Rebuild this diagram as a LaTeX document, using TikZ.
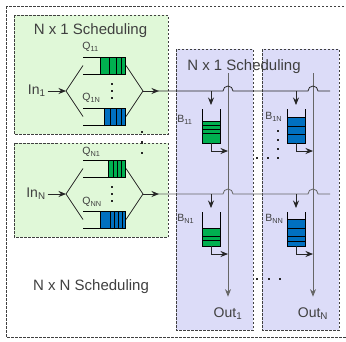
\documentclass[tikz,border=0pt]{standalone}
\usepackage{fontspec}
\setmainfont{Liberation Sans}
\usetikzlibrary{arrows.meta}
\definecolor{schedgreen}{HTML}{E0F8D8}
\definecolor{schedblue}{HTML}{DCDCF8}
\definecolor{qgreen}{HTML}{00B050}
\definecolor{qblue}{HTML}{0070C0}
\definecolor{ink}{HTML}{404040}

\begin{document}
\begin{tikzpicture}[x=1pt, y=-1pt, line width=.8pt, >={Stealth[length=7.5pt, width=6pt]},
  schedbox/.style={draw=black!75, line width=.7pt, dash pattern=on 2.5pt off 1.5pt},
  wire/.style={black!85},
  outwire/.style={black!60},
  title/.style={text=ink, font=\fontsize{15}{15}\selectfont, inner sep=0},
  port/.style={text=ink, font=\fontsize{14}{14}\selectfont, inner sep=0},
  qlabel/.style={text=ink, font=\fontsize{10.5}{10.5}\selectfont, inner sep=0, anchor=west}]
\useasboundingbox (0,0) rectangle (346,341);
% outer and inner scheduling boxes
\draw[schedbox, fill=white] (6,6) rectangle (352,337);
\filldraw[schedbox, fill=schedgreen] (14,15) rectangle (168,134);
\filldraw[schedbox, fill=schedgreen] (14,143) rectangle (168,237);
\filldraw[schedbox, fill=schedblue] (176,49) rectangle (253,330);
\filldraw[schedbox, fill=schedblue] (262,49) rectangle (339,330);
\node[title] (t1) at (90.5,31) {N x 1 Scheduling};
\node[title] (t2) at (244,67) {N x 1 Scheduling};
\node[title] (t3) at (91,287) {N x N Scheduling};
% input side: fork, two queues, merge
\foreach \g/\y/\s in {1/91/1, 2/194/N} {
 \node[port, anchor=east] (in\g) at (46,\y) {In\textsubscript{\s}};
 \coordinate (fork\g) at (66,\y);
 \coordinate (merge\g) at (143,\y);
 \draw[wire, ->] (in\g.east) ++(1.5,0) -- (fork\g);
 \foreach \d in {-1,1} {
  \draw[wire] (fork\g) -- (83,\y+25.5*\d);
  \draw[wire] (126,\y+25.5*\d) -- (merge\g);
 }
 \foreach \d in {-7,0,7}
  \fill[black!85] (112-1.3,\y+\d-1.3) rectangle ++(2.6,2.6);
}
\foreach \qy/\qx/\qc/\qs in {57/100/qgreen/{109,116,121}, 108/104/qblue/{110,116.5,121.5},
  160/108/qgreen/{113,117,121}, 211/100/qblue/{110,114,118,122}} {
 \filldraw[fill=\qc, draw=black] (\qx,\qy) rectangle (125,\qy+17);
 \foreach \c in \qs
  \draw[black] (\c,\qy) --++(0,17);
 \draw[black] (83,\qy) -- (\qx,\qy);
 \draw[black] (83,\qy+17) -- (\qx,\qy+17);
}
\node[qlabel] (q11) at (82,47) {Q\textsubscript{11}};
\node[qlabel] (q1n) at (82,98) {Q\textsubscript{1N}};
\node[qlabel] (qn1) at (82,152) {Q\textsubscript{N1}};
\node[qlabel] (qnn) at (82,202) {Q\textsubscript{NN}};
\foreach \d in {132,142.5,153}
 \fill[black!85] (142-1.3,\d-1.3) rectangle ++(2.6,2.6);
% output side: vertical output lines
\node[port] (out1) at (228,314) {Out\textsubscript{1}};
\node[port] (outN) at (313,314) {Out\textsubscript{N}};
\coordinate (top1) at (228,73);
\coordinate (topN) at (313,73);
\draw[outwire, ->] (top1) -- ([yshift=11pt]out1.north);
\draw[outwire, ->] (topN) -- ([yshift=11pt]outN.north);
% crossbar lines hopping over the output lines
\draw[wire, ->] (merge1) -- (159,91);
\draw[wire] (158,91) -- (223,91) arc[start angle=180, end angle=0, radius=5pt]
  -- (308,91) arc[start angle=180, end angle=0, radius=5pt] -- (330,91);
\draw[wire, ->] (merge2) -- (159,194);
\draw[outwire] (158,194) -- (223,194) arc[start angle=180, end angle=0, radius=5pt]
  -- (308,194) arc[start angle=180, end angle=0, radius=5pt] -- (330,194);
% crosspoint buffers
\foreach \bx/\by/\bc/\bf/\bl in {211/91/qgreen/121/{125,129,133}, 296/91/qblue/117/{126,134},
  211/194/qgreen/228/{236.5,240.5}, 296/194/qblue/219/{228,236.5,241.5}} {
 \draw[wire, ->] (\bx,\by) -- (\bx,\by+14);
 \filldraw[fill=\bc, draw=black] (\bx-9,\bf) rectangle (\bx+9,\by+52);
 \foreach \c in \bl
  \draw[black] (\bx-9,\c) --++(18,0);
 \draw[black] (\bx-9,\by+18) -- (\bx-9,\bf);
 \draw[black] (\bx+9,\by+18) -- (\bx+9,\bf);
 \draw[wire, ->] (\bx,\by+52) -- (\bx,\by+60) -- (\bx+17,\by+60);
}
\node[qlabel] (b11) at (177,120) {B\textsubscript{11}};
\node[qlabel] (b1n) at (265,117) {B\textsubscript{1N}};
\node[qlabel] (bn1) at (177,219) {B\textsubscript{N1}};
\node[qlabel] (bnn) at (265,219) {B\textsubscript{NN}};
\foreach \px/\py in {278/131, 278/140, 278/149, 278/158, 268/158, 257/158, 257/279, 269/279, 280/279}
 \fill[black!85] (\px-1.3,\py-1.3) rectangle ++(2.6,2.6);
\end{tikzpicture}
\end{document}
